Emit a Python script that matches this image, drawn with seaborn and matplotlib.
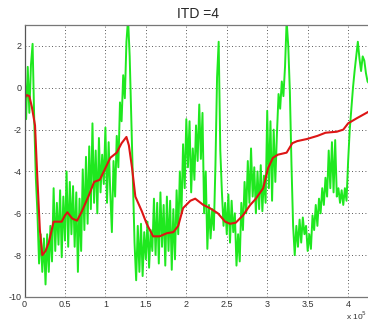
import numpy as np
import pandas as pd
import matplotlib
matplotlib.use("Agg")
import matplotlib.pyplot as plt
from matplotlib.ticker import FuncFormatter
import seaborn as sns

# Raw ITD trace, one value every 2000 samples starting at sample 0
green_vals = [
    1.2, -1.5, 1.0, -1.2, 1.1, 2.1, -1.5, -4.3, -6.0, -8.4,
    -7.0, -8.8, -7.2, -9.4, -7.0, -8.8, -6.6, -8.3, -4.8, -7.8,
    -5.5, -7.5, -4.9, -8.1, -5.2, -7.3, -4.0, -7.6, -4.5, -7.0,
    -4.7, -7.6, -5.0, -8.8, -5.3, -7.8, -3.9, -6.8, -3.3, -6.5,
    -2.8, -5.8, -1.7, -5.5, -3.0, -6.0, -2.4, -5.0, -3.2, -4.6,
    -1.9, -5.5, -2.6, -5.0, -6.9, -3.5, -5.2, -2.3, -3.8, -0.7,
    -1.6, 0.6, -0.5, 2.2, 3.3, 1.5, -1.5, -4.5, -7.4, -9.2,
    -6.6, -8.8, -6.5, -9.0, -6.9, -8.2, -6.4, -8.6, -6.8, -7.8,
    -5.3, -8.0, -5.5, -8.4, -5.0, -7.6, -5.6, -8.5, -5.2, -7.8,
    -5.4, -8.7, -5.8, -8.2, -4.9, -7.0, -4.0, -6.0, -2.7, -4.8,
    -1.5, -3.8, -1.6, -5.0, -2.9, -4.4, -1.8, -3.5, -0.8, -3.4,
    -1.2, -6.0, -4.0, -7.7, -5.6, -7.2, -5.8, -6.8, -3.7, 0.5,
    2.2, -3.0, -5.0, -6.6, -5.5, -7.0, -5.1, -7.4, -5.4, -6.9,
    -6.0, -8.5, -7.0, -8.3, -5.5, -6.8, -4.5, -6.0, -3.5, -5.5,
    -2.9, -5.2, -3.8, -6.0, -4.0, -5.8, -3.7, -5.9, -4.2, -5.5,
    -1.1, -4.8, -1.6, -5.4, -2.0, -4.5, -2.2, -0.3, -1.0, 0.3,
    -0.4, 1.0, 3.2, 2.0, -0.2, -3.7, -6.6, -8.0, -6.6, -7.6,
    -6.3, -7.4, -6.2, -7.0, -6.6, -7.8, -7.0, -7.7, -6.1, -6.8,
    -5.6, -6.6, -5.3, -6.0, -4.8, -5.6, -4.3, -5.2, -3.0, -4.8,
    -2.6, -5.0, -2.5, -5.2, -4.8, -5.5, -4.9, -5.6, -4.8, -5.4,
    -3.5, -2.0, -1.0, 0.0, 0.8, 1.5, 2.2, 1.4, 0.8, 1.5,
    1.3, 0.7, 0.3, 0.2,
]
green_step = 2000

# Smoothed ITD estimate (x in units of 1e5 samples)
red_x = [0.0, 0.03, 0.06, 0.09, 0.13, 0.155, 0.19, 0.22, 0.26, 0.30,
         0.36, 0.41, 0.46, 0.50, 0.53, 0.59, 0.65, 0.71, 0.80, 0.86,
         0.93, 0.98, 1.06, 1.14, 1.20, 1.26, 1.29, 1.33, 1.37, 1.45,
         1.51, 1.59, 1.67, 1.76, 1.84, 1.90, 1.96, 2.05, 2.11, 2.21,
         2.29, 2.39, 2.48, 2.54, 2.61, 2.70, 2.79, 2.86, 2.95, 3.01,
         3.07, 3.13, 3.24, 3.31, 3.37, 3.49, 3.62, 3.72, 3.86, 3.94,
         4.00, 4.11, 4.25]
red_y = [-0.5, -0.35, -0.4, -0.9, -1.8, -4.0, -6.8, -8.0, -7.8, -7.4,
         -6.4, -6.4, -6.4, -6.1, -5.95, -6.25, -6.35, -5.9, -5.1, -4.5,
         -4.4, -4.0, -3.35, -3.1, -2.65, -2.35, -2.75, -3.85, -5.2, -5.9,
         -6.5, -7.1, -7.1, -6.95, -6.9, -6.6, -5.75, -5.4, -5.3, -5.6,
         -5.75, -6.0, -6.4, -6.5, -6.45, -6.1, -5.6, -5.3, -4.8, -3.85,
         -3.35, -3.2, -3.1, -2.65, -2.55, -2.45, -2.3, -2.15, -2.1, -2.0,
         -1.7, -1.45, -1.15]

title_text = "ITD =4"
x_ticks = [0, 0.5, 1, 1.5, 2, 2.5, 3, 3.5, 4]
y_ticks = [-10, -8, -6, -4, -2, 0, 2]

SCALE = 1e5
raw = pd.DataFrame({
    "sample": np.arange(len(green_vals)) * green_step,
    "itd": green_vals,
})
smooth = pd.DataFrame({
    "sample": np.array(red_x) * SCALE,
    "itd": red_y,
})

sns.set_style("white")
plt.rcParams["font.family"] = ["Liberation Sans", "DejaVu Sans"]

fig = plt.figure(figsize=(3.68, 3.21), dpi=100)
ax = fig.add_axes([24.5 / 368, 24 / 321, 347.9 / 368, 272 / 321])

sns.lineplot(data=raw, x="sample", y="itd", ax=ax, color="#1fe81f",
             linewidth=1.4, estimator=None, sort=False)
sns.lineplot(data=smooth, x="sample", y="itd", ax=ax, color="#dd1515",
             linewidth=1.5, estimator=None, sort=False)

ax.set_xlim(0, 4.3 * SCALE)
ax.set_ylim(-10, 3)
ax.set_xticks([t * SCALE for t in x_ticks])
ax.set_yticks(y_ticks)
ax.xaxis.set_major_formatter(FuncFormatter(lambda v, p: f"{v / SCALE:g}"))
ax.yaxis.set_major_formatter(FuncFormatter(lambda v, p: f"{v:g}"))
ax.set_xlabel("")
ax.set_ylabel("")

ax.grid(True, linestyle=(0, (1, 3)), color="#222222", linewidth=0.6)
ax.tick_params(direction="in", length=3, width=0.7, colors="#444444",
               labelsize=6.5, pad=2, labelcolor="#333333")
for side, sp in ax.spines.items():
    sp.set_color("#777777")
    sp.set_linewidth(0.9)
ax.spines["left"].set_color("#555555")

ax.set_title(title_text, fontsize=10, pad=5)
fig.text(0.997, (321 - 316) / 321, r"x 10$^5$", ha="right", va="center",
         fontsize=6, color="#333333")

fig.savefig("out.png", dpi=100)
